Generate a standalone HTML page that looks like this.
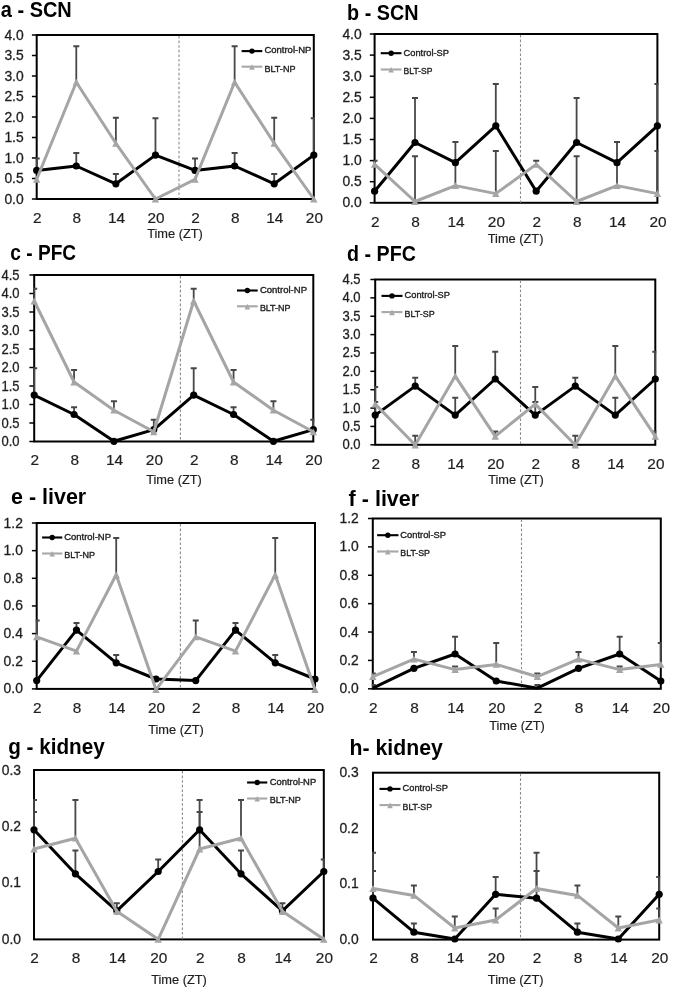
<!DOCTYPE html>
<html><head><meta charset="utf-8"><title>Figure</title>
<style>
html,body{margin:0;padding:0;background:#fff;}
body{width:675px;height:991px;overflow:hidden;}
svg{display:block;font-family:"Liberation Sans", sans-serif;will-change:transform;filter:blur(0.4px);}
</style></head>
<body>
<svg width="675" height="991" viewBox="0 0 675 991">
<rect width="675" height="991" fill="#fff"/>
<g id="pa">
<text x="0.8" y="16.8" font-size="21.5" font-weight="bold" fill="#000" textLength="71" lengthAdjust="spacingAndGlyphs">a - SCN</text>
<text x="23.7" y="203.5" font-size="14.2" text-anchor="end" fill="#1f1f1f" stroke="#1f1f1f" stroke-width="0.3" textLength="19.3" lengthAdjust="spacingAndGlyphs">0.0</text>
<line x1="31.9" y1="199" x2="36.7" y2="199" stroke="#000" stroke-width="1.5"/>
<text x="23.7" y="183" font-size="14.2" text-anchor="end" fill="#1f1f1f" stroke="#1f1f1f" stroke-width="0.3" textLength="19.3" lengthAdjust="spacingAndGlyphs">0.5</text>
<line x1="31.9" y1="178.5" x2="36.7" y2="178.5" stroke="#000" stroke-width="1.5"/>
<text x="23.7" y="162.5" font-size="14.2" text-anchor="end" fill="#1f1f1f" stroke="#1f1f1f" stroke-width="0.3" textLength="19.3" lengthAdjust="spacingAndGlyphs">1.0</text>
<line x1="31.9" y1="158" x2="36.7" y2="158" stroke="#000" stroke-width="1.5"/>
<text x="23.7" y="142" font-size="14.2" text-anchor="end" fill="#1f1f1f" stroke="#1f1f1f" stroke-width="0.3" textLength="19.3" lengthAdjust="spacingAndGlyphs">1.5</text>
<line x1="31.9" y1="137.5" x2="36.7" y2="137.5" stroke="#000" stroke-width="1.5"/>
<text x="23.7" y="121.5" font-size="14.2" text-anchor="end" fill="#1f1f1f" stroke="#1f1f1f" stroke-width="0.3" textLength="19.3" lengthAdjust="spacingAndGlyphs">2.0</text>
<line x1="31.9" y1="117" x2="36.7" y2="117" stroke="#000" stroke-width="1.5"/>
<text x="23.7" y="101" font-size="14.2" text-anchor="end" fill="#1f1f1f" stroke="#1f1f1f" stroke-width="0.3" textLength="19.3" lengthAdjust="spacingAndGlyphs">2.5</text>
<line x1="31.9" y1="96.5" x2="36.7" y2="96.5" stroke="#000" stroke-width="1.5"/>
<text x="23.7" y="80.5" font-size="14.2" text-anchor="end" fill="#1f1f1f" stroke="#1f1f1f" stroke-width="0.3" textLength="19.3" lengthAdjust="spacingAndGlyphs">3.0</text>
<line x1="31.9" y1="76" x2="36.7" y2="76" stroke="#000" stroke-width="1.5"/>
<text x="23.7" y="60" font-size="14.2" text-anchor="end" fill="#1f1f1f" stroke="#1f1f1f" stroke-width="0.3" textLength="19.3" lengthAdjust="spacingAndGlyphs">3.5</text>
<line x1="31.9" y1="55.5" x2="36.7" y2="55.5" stroke="#000" stroke-width="1.5"/>
<text x="23.7" y="39.5" font-size="14.2" text-anchor="end" fill="#1f1f1f" stroke="#1f1f1f" stroke-width="0.3" textLength="19.3" lengthAdjust="spacingAndGlyphs">4.0</text>
<line x1="31.9" y1="35" x2="36.7" y2="35" stroke="#000" stroke-width="1.5"/>
<text x="37.3" y="223" font-size="15.4" text-anchor="middle" fill="#1f1f1f" stroke="#1f1f1f" stroke-width="0.2">2</text>
<text x="76.89" y="223" font-size="15.4" text-anchor="middle" fill="#1f1f1f" stroke="#1f1f1f" stroke-width="0.2">8</text>
<text x="116.47" y="223" font-size="15.4" text-anchor="middle" fill="#1f1f1f" stroke="#1f1f1f" stroke-width="0.2">14</text>
<text x="156.06" y="223" font-size="15.4" text-anchor="middle" fill="#1f1f1f" stroke="#1f1f1f" stroke-width="0.2">20</text>
<text x="195.64" y="223" font-size="15.4" text-anchor="middle" fill="#1f1f1f" stroke="#1f1f1f" stroke-width="0.2">2</text>
<text x="235.23" y="223" font-size="15.4" text-anchor="middle" fill="#1f1f1f" stroke="#1f1f1f" stroke-width="0.2">8</text>
<text x="274.81" y="223" font-size="15.4" text-anchor="middle" fill="#1f1f1f" stroke="#1f1f1f" stroke-width="0.2">14</text>
<text x="314.4" y="223" font-size="15.4" text-anchor="middle" fill="#1f1f1f" stroke="#1f1f1f" stroke-width="0.2">20</text>
<text x="175" y="237.8" font-size="12.8" text-anchor="middle" fill="#1f1f1f" stroke="#1f1f1f" stroke-width="0.2">Time (ZT)</text>
<rect x="36.7" y="35" width="277.1" height="164" fill="none" stroke="#000" stroke-width="2"/>
<line x1="179" y1="36" x2="179" y2="199" stroke="#8a8a8a" stroke-width="1.1" stroke-dasharray="2.6 2"/>
<line x1="241.6" y1="51.1" x2="262.3" y2="51.1" stroke="#000" stroke-width="2.1"/>
<circle cx="251.95" cy="51.1" r="2.7" fill="#000"/>
<line x1="241.6" y1="66.7" x2="262.3" y2="66.7" stroke="#a8a8a8" stroke-width="2.1"/>
<path d="M251.95 64.2L254.75 69.8L249.15 69.8Z" fill="#a8a8a8"/>
<text x="264.4" y="53.1" font-size="9.1" fill="#222" stroke="#222" stroke-width="0.35" textLength="47" lengthAdjust="spacingAndGlyphs">Control-NP</text>
<text x="264.4" y="71.6" font-size="9.1" fill="#222" stroke="#222" stroke-width="0.35" textLength="31.1" lengthAdjust="spacingAndGlyphs">BLT-NP</text>
<clipPath id="clipa"><rect x="35.7" y="34" width="279.1" height="166"/></clipPath>
<g clip-path="url(#clipa)">
<line x1="36.7" y1="170.4" x2="36.7" y2="158.4" stroke="#474747" stroke-width="1.8"/>
<line x1="33.7" y1="158.4" x2="39.7" y2="158.4" stroke="#474747" stroke-width="2"/>
<line x1="76.29" y1="166" x2="76.29" y2="152.9" stroke="#474747" stroke-width="1.8"/>
<line x1="73.29" y1="152.9" x2="79.29" y2="152.9" stroke="#474747" stroke-width="2"/>
<line x1="76.29" y1="82.2" x2="76.29" y2="46.2" stroke="#474747" stroke-width="1.8"/>
<line x1="73.29" y1="46.2" x2="79.29" y2="46.2" stroke="#474747" stroke-width="2"/>
<line x1="115.87" y1="183.8" x2="115.87" y2="174" stroke="#474747" stroke-width="1.8"/>
<line x1="112.87" y1="174" x2="118.87" y2="174" stroke="#474747" stroke-width="2"/>
<line x1="115.87" y1="143.3" x2="115.87" y2="117.8" stroke="#474747" stroke-width="1.8"/>
<line x1="112.87" y1="117.8" x2="118.87" y2="117.8" stroke="#474747" stroke-width="2"/>
<line x1="155.46" y1="155.1" x2="155.46" y2="118.2" stroke="#474747" stroke-width="1.8"/>
<line x1="152.46" y1="118.2" x2="158.46" y2="118.2" stroke="#474747" stroke-width="2"/>
<line x1="195.04" y1="170.4" x2="195.04" y2="158.4" stroke="#474747" stroke-width="1.8"/>
<line x1="192.04" y1="158.4" x2="198.04" y2="158.4" stroke="#474747" stroke-width="2"/>
<line x1="234.63" y1="166" x2="234.63" y2="152.9" stroke="#474747" stroke-width="1.8"/>
<line x1="231.63" y1="152.9" x2="237.63" y2="152.9" stroke="#474747" stroke-width="2"/>
<line x1="234.63" y1="82.2" x2="234.63" y2="46.2" stroke="#474747" stroke-width="1.8"/>
<line x1="231.63" y1="46.2" x2="237.63" y2="46.2" stroke="#474747" stroke-width="2"/>
<line x1="274.21" y1="183.8" x2="274.21" y2="174" stroke="#474747" stroke-width="1.8"/>
<line x1="271.21" y1="174" x2="277.21" y2="174" stroke="#474747" stroke-width="2"/>
<line x1="274.21" y1="143.3" x2="274.21" y2="117.8" stroke="#474747" stroke-width="1.8"/>
<line x1="271.21" y1="117.8" x2="277.21" y2="117.8" stroke="#474747" stroke-width="2"/>
<line x1="313.8" y1="155.1" x2="313.8" y2="118.2" stroke="#474747" stroke-width="1.8"/>
<line x1="310.8" y1="118.2" x2="316.8" y2="118.2" stroke="#474747" stroke-width="2"/>
</g>
<polyline points="36.7,170.4 76.29,166 115.87,183.8 155.46,155.1 195.04,170.4 234.63,166 274.21,183.8 313.8,155.1" fill="none" stroke="#000000" stroke-width="3" stroke-linejoin="round"/>
<circle cx="36.7" cy="170.4" r="3.6" fill="#000000"/>
<circle cx="76.29" cy="166" r="3.6" fill="#000000"/>
<circle cx="115.87" cy="183.8" r="3.6" fill="#000000"/>
<circle cx="155.46" cy="155.1" r="3.6" fill="#000000"/>
<circle cx="195.04" cy="170.4" r="3.6" fill="#000000"/>
<circle cx="234.63" cy="166" r="3.6" fill="#000000"/>
<circle cx="274.21" cy="183.8" r="3.6" fill="#000000"/>
<circle cx="313.8" cy="155.1" r="3.6" fill="#000000"/>
<polyline points="36.7,179.3 76.29,82.2 115.87,143.3 155.46,199 195.04,179.3 234.63,82.2 274.21,143.3 313.8,199" fill="none" stroke="#a5a5a5" stroke-width="3" stroke-linejoin="round"/>
<path d="M36.7 175.9L40.4 182.7L33 182.7Z" fill="#a5a5a5"/>
<path d="M76.29 78.8L79.99 85.6L72.59 85.6Z" fill="#a5a5a5"/>
<path d="M115.87 139.9L119.57 146.7L112.17 146.7Z" fill="#a5a5a5"/>
<path d="M155.46 195.6L159.16 202.4L151.76 202.4Z" fill="#a5a5a5"/>
<path d="M195.04 175.9L198.74 182.7L191.34 182.7Z" fill="#a5a5a5"/>
<path d="M234.63 78.8L238.33 85.6L230.93 85.6Z" fill="#a5a5a5"/>
<path d="M274.21 139.9L277.91 146.7L270.51 146.7Z" fill="#a5a5a5"/>
<path d="M313.8 195.6L317.5 202.4L310.1 202.4Z" fill="#a5a5a5"/>
</g>
<g id="pb">
<text x="347.1" y="19.6" font-size="21.5" font-weight="bold" fill="#000" textLength="71.4" lengthAdjust="spacingAndGlyphs">b - SCN</text>
<text x="361.7" y="207.3" font-size="14.2" text-anchor="end" fill="#1f1f1f" stroke="#1f1f1f" stroke-width="0.3" textLength="19.3" lengthAdjust="spacingAndGlyphs">0.0</text>
<line x1="369.8" y1="202.8" x2="374.6" y2="202.8" stroke="#000" stroke-width="1.5"/>
<text x="361.7" y="186.2" font-size="14.2" text-anchor="end" fill="#1f1f1f" stroke="#1f1f1f" stroke-width="0.3" textLength="19.3" lengthAdjust="spacingAndGlyphs">0.5</text>
<line x1="369.8" y1="181.7" x2="374.6" y2="181.7" stroke="#000" stroke-width="1.5"/>
<text x="361.7" y="165.1" font-size="14.2" text-anchor="end" fill="#1f1f1f" stroke="#1f1f1f" stroke-width="0.3" textLength="19.3" lengthAdjust="spacingAndGlyphs">1.0</text>
<line x1="369.8" y1="160.6" x2="374.6" y2="160.6" stroke="#000" stroke-width="1.5"/>
<text x="361.7" y="144" font-size="14.2" text-anchor="end" fill="#1f1f1f" stroke="#1f1f1f" stroke-width="0.3" textLength="19.3" lengthAdjust="spacingAndGlyphs">1.5</text>
<line x1="369.8" y1="139.5" x2="374.6" y2="139.5" stroke="#000" stroke-width="1.5"/>
<text x="361.7" y="122.9" font-size="14.2" text-anchor="end" fill="#1f1f1f" stroke="#1f1f1f" stroke-width="0.3" textLength="19.3" lengthAdjust="spacingAndGlyphs">2.0</text>
<line x1="369.8" y1="118.4" x2="374.6" y2="118.4" stroke="#000" stroke-width="1.5"/>
<text x="361.7" y="101.8" font-size="14.2" text-anchor="end" fill="#1f1f1f" stroke="#1f1f1f" stroke-width="0.3" textLength="19.3" lengthAdjust="spacingAndGlyphs">2.5</text>
<line x1="369.8" y1="97.3" x2="374.6" y2="97.3" stroke="#000" stroke-width="1.5"/>
<text x="361.7" y="80.7" font-size="14.2" text-anchor="end" fill="#1f1f1f" stroke="#1f1f1f" stroke-width="0.3" textLength="19.3" lengthAdjust="spacingAndGlyphs">3.0</text>
<line x1="369.8" y1="76.2" x2="374.6" y2="76.2" stroke="#000" stroke-width="1.5"/>
<text x="361.7" y="59.6" font-size="14.2" text-anchor="end" fill="#1f1f1f" stroke="#1f1f1f" stroke-width="0.3" textLength="19.3" lengthAdjust="spacingAndGlyphs">3.5</text>
<line x1="369.8" y1="55.1" x2="374.6" y2="55.1" stroke="#000" stroke-width="1.5"/>
<text x="361.7" y="38.5" font-size="14.2" text-anchor="end" fill="#1f1f1f" stroke="#1f1f1f" stroke-width="0.3" textLength="19.3" lengthAdjust="spacingAndGlyphs">4.0</text>
<line x1="369.8" y1="34" x2="374.6" y2="34" stroke="#000" stroke-width="1.5"/>
<text x="375.2" y="226.7" font-size="15.4" text-anchor="middle" fill="#1f1f1f" stroke="#1f1f1f" stroke-width="0.2">2</text>
<text x="415.6" y="226.7" font-size="15.4" text-anchor="middle" fill="#1f1f1f" stroke="#1f1f1f" stroke-width="0.2">8</text>
<text x="456" y="226.7" font-size="15.4" text-anchor="middle" fill="#1f1f1f" stroke="#1f1f1f" stroke-width="0.2">14</text>
<text x="496.4" y="226.7" font-size="15.4" text-anchor="middle" fill="#1f1f1f" stroke="#1f1f1f" stroke-width="0.2">20</text>
<text x="536.8" y="226.7" font-size="15.4" text-anchor="middle" fill="#1f1f1f" stroke="#1f1f1f" stroke-width="0.2">2</text>
<text x="577.2" y="226.7" font-size="15.4" text-anchor="middle" fill="#1f1f1f" stroke="#1f1f1f" stroke-width="0.2">8</text>
<text x="617.6" y="226.7" font-size="15.4" text-anchor="middle" fill="#1f1f1f" stroke="#1f1f1f" stroke-width="0.2">14</text>
<text x="658" y="226.7" font-size="15.4" text-anchor="middle" fill="#1f1f1f" stroke="#1f1f1f" stroke-width="0.2">20</text>
<text x="515.6" y="242.5" font-size="12.8" text-anchor="middle" fill="#1f1f1f" stroke="#1f1f1f" stroke-width="0.2">Time (ZT)</text>
<rect x="374.6" y="34" width="282.8" height="168.8" fill="none" stroke="#000" stroke-width="2"/>
<line x1="520.5" y1="35" x2="520.5" y2="202.8" stroke="#8a8a8a" stroke-width="1.1" stroke-dasharray="2.6 2"/>
<line x1="380.7" y1="53.2" x2="401.5" y2="53.2" stroke="#000" stroke-width="2.1"/>
<circle cx="391.1" cy="53.2" r="2.7" fill="#000"/>
<line x1="380.7" y1="69.5" x2="401.5" y2="69.5" stroke="#a8a8a8" stroke-width="2.1"/>
<path d="M391.1 67L393.9 72.6L388.3 72.6Z" fill="#a8a8a8"/>
<text x="403.6" y="55.5" font-size="9.1" fill="#222" stroke="#222" stroke-width="0.35" textLength="45.4" lengthAdjust="spacingAndGlyphs">Control-SP</text>
<text x="403.6" y="73.9" font-size="9.1" fill="#222" stroke="#222" stroke-width="0.35" textLength="28.8" lengthAdjust="spacingAndGlyphs">BLT-SP</text>
<clipPath id="clipb"><rect x="373.6" y="33" width="284.8" height="170.8"/></clipPath>
<g clip-path="url(#clipb)">
<line x1="374.6" y1="164.4" x2="374.6" y2="160.7" stroke="#474747" stroke-width="1.8"/>
<line x1="371.6" y1="160.7" x2="377.6" y2="160.7" stroke="#474747" stroke-width="2"/>
<line x1="415" y1="142.5" x2="415" y2="98" stroke="#474747" stroke-width="1.8"/>
<line x1="412" y1="98" x2="418" y2="98" stroke="#474747" stroke-width="2"/>
<line x1="415" y1="201.5" x2="415" y2="156.2" stroke="#474747" stroke-width="1.8"/>
<line x1="412" y1="156.2" x2="418" y2="156.2" stroke="#474747" stroke-width="2"/>
<line x1="455.4" y1="162.7" x2="455.4" y2="142" stroke="#474747" stroke-width="1.8"/>
<line x1="452.4" y1="142" x2="458.4" y2="142" stroke="#474747" stroke-width="2"/>
<line x1="455.4" y1="185.6" x2="455.4" y2="162.7" stroke="#474747" stroke-width="1.8"/>
<line x1="495.8" y1="125.8" x2="495.8" y2="84" stroke="#474747" stroke-width="1.8"/>
<line x1="492.8" y1="84" x2="498.8" y2="84" stroke="#474747" stroke-width="2"/>
<line x1="495.8" y1="193.6" x2="495.8" y2="151" stroke="#474747" stroke-width="1.8"/>
<line x1="492.8" y1="151" x2="498.8" y2="151" stroke="#474747" stroke-width="2"/>
<line x1="536.2" y1="164.4" x2="536.2" y2="160.7" stroke="#474747" stroke-width="1.8"/>
<line x1="533.2" y1="160.7" x2="539.2" y2="160.7" stroke="#474747" stroke-width="2"/>
<line x1="576.6" y1="142.5" x2="576.6" y2="98" stroke="#474747" stroke-width="1.8"/>
<line x1="573.6" y1="98" x2="579.6" y2="98" stroke="#474747" stroke-width="2"/>
<line x1="576.6" y1="201.5" x2="576.6" y2="156.2" stroke="#474747" stroke-width="1.8"/>
<line x1="573.6" y1="156.2" x2="579.6" y2="156.2" stroke="#474747" stroke-width="2"/>
<line x1="617" y1="162.7" x2="617" y2="142" stroke="#474747" stroke-width="1.8"/>
<line x1="614" y1="142" x2="620" y2="142" stroke="#474747" stroke-width="2"/>
<line x1="617" y1="185.6" x2="617" y2="162.7" stroke="#474747" stroke-width="1.8"/>
<line x1="657.4" y1="125.8" x2="657.4" y2="84" stroke="#474747" stroke-width="1.8"/>
<line x1="654.4" y1="84" x2="660.4" y2="84" stroke="#474747" stroke-width="2"/>
<line x1="657.4" y1="193.6" x2="657.4" y2="151" stroke="#474747" stroke-width="1.8"/>
<line x1="654.4" y1="151" x2="660.4" y2="151" stroke="#474747" stroke-width="2"/>
</g>
<polyline points="374.6,191.2 415,142.5 455.4,162.7 495.8,125.8 536.2,191.2 576.6,142.5 617,162.7 657.4,125.8" fill="none" stroke="#000000" stroke-width="3" stroke-linejoin="round"/>
<circle cx="374.6" cy="191.2" r="3.6" fill="#000000"/>
<circle cx="415" cy="142.5" r="3.6" fill="#000000"/>
<circle cx="455.4" cy="162.7" r="3.6" fill="#000000"/>
<circle cx="495.8" cy="125.8" r="3.6" fill="#000000"/>
<circle cx="536.2" cy="191.2" r="3.6" fill="#000000"/>
<circle cx="576.6" cy="142.5" r="3.6" fill="#000000"/>
<circle cx="617" cy="162.7" r="3.6" fill="#000000"/>
<circle cx="657.4" cy="125.8" r="3.6" fill="#000000"/>
<polyline points="374.6,164.4 415,201.5 455.4,185.6 495.8,193.6 536.2,164.4 576.6,201.5 617,185.6 657.4,193.6" fill="none" stroke="#a5a5a5" stroke-width="3" stroke-linejoin="round"/>
<path d="M374.6 161L378.3 167.8L370.9 167.8Z" fill="#a5a5a5"/>
<path d="M415 198.1L418.7 204.9L411.3 204.9Z" fill="#a5a5a5"/>
<path d="M455.4 182.2L459.1 189L451.7 189Z" fill="#a5a5a5"/>
<path d="M495.8 190.2L499.5 197L492.1 197Z" fill="#a5a5a5"/>
<path d="M536.2 161L539.9 167.8L532.5 167.8Z" fill="#a5a5a5"/>
<path d="M576.6 198.1L580.3 204.9L572.9 204.9Z" fill="#a5a5a5"/>
<path d="M617 182.2L620.7 189L613.3 189Z" fill="#a5a5a5"/>
<path d="M657.4 190.2L661.1 197L653.7 197Z" fill="#a5a5a5"/>
</g>
<g id="pc">
<text x="10.3" y="259.9" font-size="21.5" font-weight="bold" fill="#000" textLength="65.8" lengthAdjust="spacingAndGlyphs">c - PFC</text>
<text x="19.5" y="446" font-size="14.2" text-anchor="end" fill="#1f1f1f" stroke="#1f1f1f" stroke-width="0.3" textLength="18.1" lengthAdjust="spacingAndGlyphs">0.0</text>
<line x1="29.4" y1="441.5" x2="34.2" y2="441.5" stroke="#000" stroke-width="1.5"/>
<text x="19.5" y="427.5" font-size="14.2" text-anchor="end" fill="#1f1f1f" stroke="#1f1f1f" stroke-width="0.3" textLength="18.1" lengthAdjust="spacingAndGlyphs">0.5</text>
<line x1="29.4" y1="423" x2="34.2" y2="423" stroke="#000" stroke-width="1.5"/>
<text x="19.5" y="409" font-size="14.2" text-anchor="end" fill="#1f1f1f" stroke="#1f1f1f" stroke-width="0.3" textLength="18.1" lengthAdjust="spacingAndGlyphs">1.0</text>
<line x1="29.4" y1="404.5" x2="34.2" y2="404.5" stroke="#000" stroke-width="1.5"/>
<text x="19.5" y="390.5" font-size="14.2" text-anchor="end" fill="#1f1f1f" stroke="#1f1f1f" stroke-width="0.3" textLength="18.1" lengthAdjust="spacingAndGlyphs">1.5</text>
<line x1="29.4" y1="386" x2="34.2" y2="386" stroke="#000" stroke-width="1.5"/>
<text x="19.5" y="372" font-size="14.2" text-anchor="end" fill="#1f1f1f" stroke="#1f1f1f" stroke-width="0.3" textLength="18.1" lengthAdjust="spacingAndGlyphs">2.0</text>
<line x1="29.4" y1="367.5" x2="34.2" y2="367.5" stroke="#000" stroke-width="1.5"/>
<text x="19.5" y="353.5" font-size="14.2" text-anchor="end" fill="#1f1f1f" stroke="#1f1f1f" stroke-width="0.3" textLength="18.1" lengthAdjust="spacingAndGlyphs">2.5</text>
<line x1="29.4" y1="349" x2="34.2" y2="349" stroke="#000" stroke-width="1.5"/>
<text x="19.5" y="335" font-size="14.2" text-anchor="end" fill="#1f1f1f" stroke="#1f1f1f" stroke-width="0.3" textLength="18.1" lengthAdjust="spacingAndGlyphs">3.0</text>
<line x1="29.4" y1="330.5" x2="34.2" y2="330.5" stroke="#000" stroke-width="1.5"/>
<text x="19.5" y="316.5" font-size="14.2" text-anchor="end" fill="#1f1f1f" stroke="#1f1f1f" stroke-width="0.3" textLength="18.1" lengthAdjust="spacingAndGlyphs">3.5</text>
<line x1="29.4" y1="312" x2="34.2" y2="312" stroke="#000" stroke-width="1.5"/>
<text x="19.5" y="298" font-size="14.2" text-anchor="end" fill="#1f1f1f" stroke="#1f1f1f" stroke-width="0.3" textLength="18.1" lengthAdjust="spacingAndGlyphs">4.0</text>
<line x1="29.4" y1="293.5" x2="34.2" y2="293.5" stroke="#000" stroke-width="1.5"/>
<text x="19.5" y="279.5" font-size="14.2" text-anchor="end" fill="#1f1f1f" stroke="#1f1f1f" stroke-width="0.3" textLength="18.1" lengthAdjust="spacingAndGlyphs">4.5</text>
<line x1="29.4" y1="275" x2="34.2" y2="275" stroke="#000" stroke-width="1.5"/>
<text x="34.8" y="465" font-size="15.4" text-anchor="middle" fill="#1f1f1f" stroke="#1f1f1f" stroke-width="0.2">2</text>
<text x="74.67" y="465" font-size="15.4" text-anchor="middle" fill="#1f1f1f" stroke="#1f1f1f" stroke-width="0.2">8</text>
<text x="114.54" y="465" font-size="15.4" text-anchor="middle" fill="#1f1f1f" stroke="#1f1f1f" stroke-width="0.2">14</text>
<text x="154.41" y="465" font-size="15.4" text-anchor="middle" fill="#1f1f1f" stroke="#1f1f1f" stroke-width="0.2">20</text>
<text x="194.29" y="465" font-size="15.4" text-anchor="middle" fill="#1f1f1f" stroke="#1f1f1f" stroke-width="0.2">2</text>
<text x="234.16" y="465" font-size="15.4" text-anchor="middle" fill="#1f1f1f" stroke="#1f1f1f" stroke-width="0.2">8</text>
<text x="274.03" y="465" font-size="15.4" text-anchor="middle" fill="#1f1f1f" stroke="#1f1f1f" stroke-width="0.2">14</text>
<text x="313.9" y="465" font-size="15.4" text-anchor="middle" fill="#1f1f1f" stroke="#1f1f1f" stroke-width="0.2">20</text>
<text x="174" y="484.3" font-size="12.8" text-anchor="middle" fill="#1f1f1f" stroke="#1f1f1f" stroke-width="0.2">Time (ZT)</text>
<rect x="34.2" y="275" width="279.1" height="166.5" fill="none" stroke="#000" stroke-width="2"/>
<line x1="180.4" y1="276" x2="180.4" y2="441.5" stroke="#8a8a8a" stroke-width="1.1" stroke-dasharray="2.6 2"/>
<line x1="237" y1="290.5" x2="257.7" y2="290.5" stroke="#000" stroke-width="2.1"/>
<circle cx="247.35" cy="290.5" r="2.7" fill="#000"/>
<line x1="237" y1="306.3" x2="257.7" y2="306.3" stroke="#a8a8a8" stroke-width="2.1"/>
<path d="M247.35 303.8L250.15 309.4L244.55 309.4Z" fill="#a8a8a8"/>
<text x="259.9" y="292.9" font-size="9.1" fill="#222" stroke="#222" stroke-width="0.35" textLength="47.1" lengthAdjust="spacingAndGlyphs">Control-NP</text>
<text x="259.9" y="311" font-size="9.1" fill="#222" stroke="#222" stroke-width="0.35" textLength="30.5" lengthAdjust="spacingAndGlyphs">BLT-NP</text>
<clipPath id="clipc"><rect x="33.2" y="274" width="281.1" height="168.5"/></clipPath>
<g clip-path="url(#clipc)">
<line x1="34.2" y1="395.1" x2="34.2" y2="368.2" stroke="#474747" stroke-width="1.8"/>
<line x1="31.2" y1="368.2" x2="37.2" y2="368.2" stroke="#474747" stroke-width="2"/>
<line x1="34.2" y1="301" x2="34.2" y2="288.7" stroke="#474747" stroke-width="1.8"/>
<line x1="31.2" y1="288.7" x2="37.2" y2="288.7" stroke="#474747" stroke-width="2"/>
<line x1="74.07" y1="414.5" x2="74.07" y2="407.2" stroke="#474747" stroke-width="1.8"/>
<line x1="71.07" y1="407.2" x2="77.07" y2="407.2" stroke="#474747" stroke-width="2"/>
<line x1="74.07" y1="382" x2="74.07" y2="370" stroke="#474747" stroke-width="1.8"/>
<line x1="71.07" y1="370" x2="77.07" y2="370" stroke="#474747" stroke-width="2"/>
<line x1="113.94" y1="410.2" x2="113.94" y2="401.3" stroke="#474747" stroke-width="1.8"/>
<line x1="110.94" y1="401.3" x2="116.94" y2="401.3" stroke="#474747" stroke-width="2"/>
<line x1="153.81" y1="431.8" x2="153.81" y2="419.7" stroke="#474747" stroke-width="1.8"/>
<line x1="150.81" y1="419.7" x2="156.81" y2="419.7" stroke="#474747" stroke-width="2"/>
<line x1="193.69" y1="395.1" x2="193.69" y2="368.2" stroke="#474747" stroke-width="1.8"/>
<line x1="190.69" y1="368.2" x2="196.69" y2="368.2" stroke="#474747" stroke-width="2"/>
<line x1="193.69" y1="301" x2="193.69" y2="288.7" stroke="#474747" stroke-width="1.8"/>
<line x1="190.69" y1="288.7" x2="196.69" y2="288.7" stroke="#474747" stroke-width="2"/>
<line x1="233.56" y1="414.5" x2="233.56" y2="407.2" stroke="#474747" stroke-width="1.8"/>
<line x1="230.56" y1="407.2" x2="236.56" y2="407.2" stroke="#474747" stroke-width="2"/>
<line x1="233.56" y1="382" x2="233.56" y2="370" stroke="#474747" stroke-width="1.8"/>
<line x1="230.56" y1="370" x2="236.56" y2="370" stroke="#474747" stroke-width="2"/>
<line x1="273.43" y1="410.2" x2="273.43" y2="401.3" stroke="#474747" stroke-width="1.8"/>
<line x1="270.43" y1="401.3" x2="276.43" y2="401.3" stroke="#474747" stroke-width="2"/>
<line x1="313.3" y1="431.8" x2="313.3" y2="419.7" stroke="#474747" stroke-width="1.8"/>
<line x1="310.3" y1="419.7" x2="316.3" y2="419.7" stroke="#474747" stroke-width="2"/>
</g>
<polyline points="34.2,395.1 74.07,414.5 113.94,441.3 153.81,429.6 193.69,395.1 233.56,414.5 273.43,441.3 313.3,429.6" fill="none" stroke="#000000" stroke-width="3" stroke-linejoin="round"/>
<circle cx="34.2" cy="395.1" r="3.6" fill="#000000"/>
<circle cx="74.07" cy="414.5" r="3.6" fill="#000000"/>
<circle cx="113.94" cy="441.3" r="3.6" fill="#000000"/>
<circle cx="153.81" cy="429.6" r="3.6" fill="#000000"/>
<circle cx="193.69" cy="395.1" r="3.6" fill="#000000"/>
<circle cx="233.56" cy="414.5" r="3.6" fill="#000000"/>
<circle cx="273.43" cy="441.3" r="3.6" fill="#000000"/>
<circle cx="313.3" cy="429.6" r="3.6" fill="#000000"/>
<polyline points="34.2,301 74.07,382 113.94,410.2 153.81,431.8 193.69,301 233.56,382 273.43,410.2 313.3,431.8" fill="none" stroke="#a5a5a5" stroke-width="3" stroke-linejoin="round"/>
<path d="M34.2 297.6L37.9 304.4L30.5 304.4Z" fill="#a5a5a5"/>
<path d="M74.07 378.6L77.77 385.4L70.37 385.4Z" fill="#a5a5a5"/>
<path d="M113.94 406.8L117.64 413.6L110.24 413.6Z" fill="#a5a5a5"/>
<path d="M153.81 428.4L157.51 435.2L150.11 435.2Z" fill="#a5a5a5"/>
<path d="M193.69 297.6L197.39 304.4L189.99 304.4Z" fill="#a5a5a5"/>
<path d="M233.56 378.6L237.26 385.4L229.86 385.4Z" fill="#a5a5a5"/>
<path d="M273.43 406.8L277.13 413.6L269.73 413.6Z" fill="#a5a5a5"/>
<path d="M313.3 428.4L317 435.2L309.6 435.2Z" fill="#a5a5a5"/>
</g>
<g id="pd">
<text x="347.1" y="260.8" font-size="21.5" font-weight="bold" fill="#000" textLength="68.8" lengthAdjust="spacingAndGlyphs">d - PFC</text>
<text x="360.6" y="449.3" font-size="14.2" text-anchor="end" fill="#1f1f1f" stroke="#1f1f1f" stroke-width="0.3" textLength="18.1" lengthAdjust="spacingAndGlyphs">0.0</text>
<line x1="370.4" y1="444.8" x2="375.2" y2="444.8" stroke="#000" stroke-width="1.5"/>
<text x="360.6" y="430.93" font-size="14.2" text-anchor="end" fill="#1f1f1f" stroke="#1f1f1f" stroke-width="0.3" textLength="18.1" lengthAdjust="spacingAndGlyphs">0.5</text>
<line x1="370.4" y1="426.43" x2="375.2" y2="426.43" stroke="#000" stroke-width="1.5"/>
<text x="360.6" y="412.57" font-size="14.2" text-anchor="end" fill="#1f1f1f" stroke="#1f1f1f" stroke-width="0.3" textLength="18.1" lengthAdjust="spacingAndGlyphs">1.0</text>
<line x1="370.4" y1="408.07" x2="375.2" y2="408.07" stroke="#000" stroke-width="1.5"/>
<text x="360.6" y="394.2" font-size="14.2" text-anchor="end" fill="#1f1f1f" stroke="#1f1f1f" stroke-width="0.3" textLength="18.1" lengthAdjust="spacingAndGlyphs">1.5</text>
<line x1="370.4" y1="389.7" x2="375.2" y2="389.7" stroke="#000" stroke-width="1.5"/>
<text x="360.6" y="375.83" font-size="14.2" text-anchor="end" fill="#1f1f1f" stroke="#1f1f1f" stroke-width="0.3" textLength="18.1" lengthAdjust="spacingAndGlyphs">2.0</text>
<line x1="370.4" y1="371.33" x2="375.2" y2="371.33" stroke="#000" stroke-width="1.5"/>
<text x="360.6" y="357.47" font-size="14.2" text-anchor="end" fill="#1f1f1f" stroke="#1f1f1f" stroke-width="0.3" textLength="18.1" lengthAdjust="spacingAndGlyphs">2.5</text>
<line x1="370.4" y1="352.97" x2="375.2" y2="352.97" stroke="#000" stroke-width="1.5"/>
<text x="360.6" y="339.1" font-size="14.2" text-anchor="end" fill="#1f1f1f" stroke="#1f1f1f" stroke-width="0.3" textLength="18.1" lengthAdjust="spacingAndGlyphs">3.0</text>
<line x1="370.4" y1="334.6" x2="375.2" y2="334.6" stroke="#000" stroke-width="1.5"/>
<text x="360.6" y="320.73" font-size="14.2" text-anchor="end" fill="#1f1f1f" stroke="#1f1f1f" stroke-width="0.3" textLength="18.1" lengthAdjust="spacingAndGlyphs">3.5</text>
<line x1="370.4" y1="316.23" x2="375.2" y2="316.23" stroke="#000" stroke-width="1.5"/>
<text x="360.6" y="302.37" font-size="14.2" text-anchor="end" fill="#1f1f1f" stroke="#1f1f1f" stroke-width="0.3" textLength="18.1" lengthAdjust="spacingAndGlyphs">4.0</text>
<line x1="370.4" y1="297.87" x2="375.2" y2="297.87" stroke="#000" stroke-width="1.5"/>
<text x="360.6" y="284" font-size="14.2" text-anchor="end" fill="#1f1f1f" stroke="#1f1f1f" stroke-width="0.3" textLength="18.1" lengthAdjust="spacingAndGlyphs">4.5</text>
<line x1="370.4" y1="279.5" x2="375.2" y2="279.5" stroke="#000" stroke-width="1.5"/>
<text x="375.8" y="468.9" font-size="15.4" text-anchor="middle" fill="#1f1f1f" stroke="#1f1f1f" stroke-width="0.2">2</text>
<text x="415.81" y="468.9" font-size="15.4" text-anchor="middle" fill="#1f1f1f" stroke="#1f1f1f" stroke-width="0.2">8</text>
<text x="455.83" y="468.9" font-size="15.4" text-anchor="middle" fill="#1f1f1f" stroke="#1f1f1f" stroke-width="0.2">14</text>
<text x="495.84" y="468.9" font-size="15.4" text-anchor="middle" fill="#1f1f1f" stroke="#1f1f1f" stroke-width="0.2">20</text>
<text x="535.86" y="468.9" font-size="15.4" text-anchor="middle" fill="#1f1f1f" stroke="#1f1f1f" stroke-width="0.2">2</text>
<text x="575.87" y="468.9" font-size="15.4" text-anchor="middle" fill="#1f1f1f" stroke="#1f1f1f" stroke-width="0.2">8</text>
<text x="615.89" y="468.9" font-size="15.4" text-anchor="middle" fill="#1f1f1f" stroke="#1f1f1f" stroke-width="0.2">14</text>
<text x="655.9" y="468.9" font-size="15.4" text-anchor="middle" fill="#1f1f1f" stroke="#1f1f1f" stroke-width="0.2">20</text>
<text x="516" y="484.3" font-size="12.8" text-anchor="middle" fill="#1f1f1f" stroke="#1f1f1f" stroke-width="0.2">Time (ZT)</text>
<rect x="375.2" y="279.5" width="280.1" height="165.3" fill="none" stroke="#000" stroke-width="2"/>
<line x1="520.5" y1="280.5" x2="520.5" y2="444.8" stroke="#8a8a8a" stroke-width="1.1" stroke-dasharray="2.6 2"/>
<line x1="381.5" y1="295.9" x2="402.5" y2="295.9" stroke="#000" stroke-width="2.1"/>
<circle cx="392" cy="295.9" r="2.7" fill="#000"/>
<line x1="381.5" y1="312.1" x2="402.5" y2="312.1" stroke="#a8a8a8" stroke-width="2.1"/>
<path d="M392 309.6L394.8 315.2L389.2 315.2Z" fill="#a8a8a8"/>
<text x="404.6" y="298.3" font-size="9.1" fill="#222" stroke="#222" stroke-width="0.35" textLength="45.4" lengthAdjust="spacingAndGlyphs">Control-SP</text>
<text x="404.6" y="316.6" font-size="9.1" fill="#222" stroke="#222" stroke-width="0.35" textLength="30" lengthAdjust="spacingAndGlyphs">BLT-SP</text>
<clipPath id="clipd"><rect x="374.2" y="278.5" width="282.1" height="167.3"/></clipPath>
<g clip-path="url(#clipd)">
<line x1="375.2" y1="415.1" x2="375.2" y2="387" stroke="#474747" stroke-width="1.8"/>
<line x1="372.2" y1="387" x2="378.2" y2="387" stroke="#474747" stroke-width="2"/>
<line x1="375.2" y1="404.1" x2="375.2" y2="402" stroke="#474747" stroke-width="1.8"/>
<line x1="372.2" y1="402" x2="378.2" y2="402" stroke="#474747" stroke-width="2"/>
<line x1="415.21" y1="386.1" x2="415.21" y2="377.7" stroke="#474747" stroke-width="1.8"/>
<line x1="412.21" y1="377.7" x2="418.21" y2="377.7" stroke="#474747" stroke-width="2"/>
<line x1="415.21" y1="445" x2="415.21" y2="435.7" stroke="#474747" stroke-width="1.8"/>
<line x1="412.21" y1="435.7" x2="418.21" y2="435.7" stroke="#474747" stroke-width="2"/>
<line x1="455.23" y1="415.1" x2="455.23" y2="397.8" stroke="#474747" stroke-width="1.8"/>
<line x1="452.23" y1="397.8" x2="458.23" y2="397.8" stroke="#474747" stroke-width="2"/>
<line x1="455.23" y1="376.1" x2="455.23" y2="346" stroke="#474747" stroke-width="1.8"/>
<line x1="452.23" y1="346" x2="458.23" y2="346" stroke="#474747" stroke-width="2"/>
<line x1="495.24" y1="379" x2="495.24" y2="351.8" stroke="#474747" stroke-width="1.8"/>
<line x1="492.24" y1="351.8" x2="498.24" y2="351.8" stroke="#474747" stroke-width="2"/>
<line x1="495.24" y1="436.3" x2="495.24" y2="431.6" stroke="#474747" stroke-width="1.8"/>
<line x1="492.24" y1="431.6" x2="498.24" y2="431.6" stroke="#474747" stroke-width="2"/>
<line x1="535.26" y1="415.1" x2="535.26" y2="387" stroke="#474747" stroke-width="1.8"/>
<line x1="532.26" y1="387" x2="538.26" y2="387" stroke="#474747" stroke-width="2"/>
<line x1="535.26" y1="404.1" x2="535.26" y2="402" stroke="#474747" stroke-width="1.8"/>
<line x1="532.26" y1="402" x2="538.26" y2="402" stroke="#474747" stroke-width="2"/>
<line x1="575.27" y1="386.1" x2="575.27" y2="377.7" stroke="#474747" stroke-width="1.8"/>
<line x1="572.27" y1="377.7" x2="578.27" y2="377.7" stroke="#474747" stroke-width="2"/>
<line x1="575.27" y1="445" x2="575.27" y2="435.7" stroke="#474747" stroke-width="1.8"/>
<line x1="572.27" y1="435.7" x2="578.27" y2="435.7" stroke="#474747" stroke-width="2"/>
<line x1="615.29" y1="415.1" x2="615.29" y2="397.8" stroke="#474747" stroke-width="1.8"/>
<line x1="612.29" y1="397.8" x2="618.29" y2="397.8" stroke="#474747" stroke-width="2"/>
<line x1="615.29" y1="376.1" x2="615.29" y2="346" stroke="#474747" stroke-width="1.8"/>
<line x1="612.29" y1="346" x2="618.29" y2="346" stroke="#474747" stroke-width="2"/>
<line x1="655.3" y1="379" x2="655.3" y2="351.8" stroke="#474747" stroke-width="1.8"/>
<line x1="652.3" y1="351.8" x2="658.3" y2="351.8" stroke="#474747" stroke-width="2"/>
<line x1="655.3" y1="436.3" x2="655.3" y2="431.6" stroke="#474747" stroke-width="1.8"/>
<line x1="652.3" y1="431.6" x2="658.3" y2="431.6" stroke="#474747" stroke-width="2"/>
</g>
<polyline points="375.2,415.1 415.21,386.1 455.23,415.1 495.24,379 535.26,415.1 575.27,386.1 615.29,415.1 655.3,379" fill="none" stroke="#000000" stroke-width="3" stroke-linejoin="round"/>
<circle cx="375.2" cy="415.1" r="3.6" fill="#000000"/>
<circle cx="415.21" cy="386.1" r="3.6" fill="#000000"/>
<circle cx="455.23" cy="415.1" r="3.6" fill="#000000"/>
<circle cx="495.24" cy="379" r="3.6" fill="#000000"/>
<circle cx="535.26" cy="415.1" r="3.6" fill="#000000"/>
<circle cx="575.27" cy="386.1" r="3.6" fill="#000000"/>
<circle cx="615.29" cy="415.1" r="3.6" fill="#000000"/>
<circle cx="655.3" cy="379" r="3.6" fill="#000000"/>
<polyline points="375.2,404.1 415.21,445 455.23,376.1 495.24,436.3 535.26,404.1 575.27,445 615.29,376.1 655.3,436.3" fill="none" stroke="#a5a5a5" stroke-width="3" stroke-linejoin="round"/>
<path d="M375.2 400.7L378.9 407.5L371.5 407.5Z" fill="#a5a5a5"/>
<path d="M415.21 441.6L418.91 448.4L411.51 448.4Z" fill="#a5a5a5"/>
<path d="M455.23 372.7L458.93 379.5L451.53 379.5Z" fill="#a5a5a5"/>
<path d="M495.24 432.9L498.94 439.7L491.54 439.7Z" fill="#a5a5a5"/>
<path d="M535.26 400.7L538.96 407.5L531.56 407.5Z" fill="#a5a5a5"/>
<path d="M575.27 441.6L578.97 448.4L571.57 448.4Z" fill="#a5a5a5"/>
<path d="M615.29 372.7L618.99 379.5L611.59 379.5Z" fill="#a5a5a5"/>
<path d="M655.3 432.9L659 439.7L651.6 439.7Z" fill="#a5a5a5"/>
</g>
<g id="pe">
<text x="11" y="504.2" font-size="21.5" font-weight="bold" fill="#000" textLength="75.2" lengthAdjust="spacingAndGlyphs">e - liver</text>
<text x="22.9" y="693.4" font-size="14.2" text-anchor="end" fill="#1f1f1f" stroke="#1f1f1f" stroke-width="0.3" textLength="19.3" lengthAdjust="spacingAndGlyphs">0.0</text>
<line x1="31.9" y1="688.9" x2="36.7" y2="688.9" stroke="#000" stroke-width="1.5"/>
<text x="22.9" y="665.75" font-size="14.2" text-anchor="end" fill="#1f1f1f" stroke="#1f1f1f" stroke-width="0.3" textLength="19.3" lengthAdjust="spacingAndGlyphs">0.2</text>
<line x1="31.9" y1="661.25" x2="36.7" y2="661.25" stroke="#000" stroke-width="1.5"/>
<text x="22.9" y="638.1" font-size="14.2" text-anchor="end" fill="#1f1f1f" stroke="#1f1f1f" stroke-width="0.3" textLength="19.3" lengthAdjust="spacingAndGlyphs">0.4</text>
<line x1="31.9" y1="633.6" x2="36.7" y2="633.6" stroke="#000" stroke-width="1.5"/>
<text x="22.9" y="610.45" font-size="14.2" text-anchor="end" fill="#1f1f1f" stroke="#1f1f1f" stroke-width="0.3" textLength="19.3" lengthAdjust="spacingAndGlyphs">0.6</text>
<line x1="31.9" y1="605.95" x2="36.7" y2="605.95" stroke="#000" stroke-width="1.5"/>
<text x="22.9" y="582.8" font-size="14.2" text-anchor="end" fill="#1f1f1f" stroke="#1f1f1f" stroke-width="0.3" textLength="19.3" lengthAdjust="spacingAndGlyphs">0.8</text>
<line x1="31.9" y1="578.3" x2="36.7" y2="578.3" stroke="#000" stroke-width="1.5"/>
<text x="22.9" y="555.15" font-size="14.2" text-anchor="end" fill="#1f1f1f" stroke="#1f1f1f" stroke-width="0.3" textLength="19.3" lengthAdjust="spacingAndGlyphs">1.0</text>
<line x1="31.9" y1="550.65" x2="36.7" y2="550.65" stroke="#000" stroke-width="1.5"/>
<text x="22.9" y="527.5" font-size="14.2" text-anchor="end" fill="#1f1f1f" stroke="#1f1f1f" stroke-width="0.3" textLength="19.3" lengthAdjust="spacingAndGlyphs">1.2</text>
<line x1="31.9" y1="523" x2="36.7" y2="523" stroke="#000" stroke-width="1.5"/>
<text x="37.3" y="713" font-size="15.4" text-anchor="middle" fill="#1f1f1f" stroke="#1f1f1f" stroke-width="0.2">2</text>
<text x="77.06" y="713" font-size="15.4" text-anchor="middle" fill="#1f1f1f" stroke="#1f1f1f" stroke-width="0.2">8</text>
<text x="116.81" y="713" font-size="15.4" text-anchor="middle" fill="#1f1f1f" stroke="#1f1f1f" stroke-width="0.2">14</text>
<text x="156.57" y="713" font-size="15.4" text-anchor="middle" fill="#1f1f1f" stroke="#1f1f1f" stroke-width="0.2">20</text>
<text x="196.33" y="713" font-size="15.4" text-anchor="middle" fill="#1f1f1f" stroke="#1f1f1f" stroke-width="0.2">2</text>
<text x="236.09" y="713" font-size="15.4" text-anchor="middle" fill="#1f1f1f" stroke="#1f1f1f" stroke-width="0.2">8</text>
<text x="275.84" y="713" font-size="15.4" text-anchor="middle" fill="#1f1f1f" stroke="#1f1f1f" stroke-width="0.2">14</text>
<text x="315.6" y="713" font-size="15.4" text-anchor="middle" fill="#1f1f1f" stroke="#1f1f1f" stroke-width="0.2">20</text>
<text x="176" y="733.9" font-size="12.8" text-anchor="middle" fill="#1f1f1f" stroke="#1f1f1f" stroke-width="0.2">Time (ZT)</text>
<rect x="36.7" y="523" width="278.3" height="165.9" fill="none" stroke="#000" stroke-width="2"/>
<line x1="180.4" y1="524" x2="180.4" y2="688.9" stroke="#8a8a8a" stroke-width="1.1" stroke-dasharray="2.6 2"/>
<line x1="42.1" y1="537.5" x2="62.3" y2="537.5" stroke="#000" stroke-width="2.1"/>
<circle cx="52.2" cy="537.5" r="2.7" fill="#000"/>
<line x1="42.1" y1="553.5" x2="62.3" y2="553.5" stroke="#a8a8a8" stroke-width="2.1"/>
<path d="M52.2 551L55 556.6L49.4 556.6Z" fill="#a8a8a8"/>
<text x="64.2" y="539.9" font-size="9.1" fill="#222" stroke="#222" stroke-width="0.35" textLength="46.8" lengthAdjust="spacingAndGlyphs">Control-NP</text>
<text x="64.2" y="558" font-size="9.1" fill="#222" stroke="#222" stroke-width="0.35" textLength="30.8" lengthAdjust="spacingAndGlyphs">BLT-NP</text>
<clipPath id="clipe"><rect x="35.7" y="522" width="280.3" height="167.9"/></clipPath>
<g clip-path="url(#clipe)">
<line x1="36.7" y1="636.8" x2="36.7" y2="620.6" stroke="#474747" stroke-width="1.8"/>
<line x1="33.7" y1="620.6" x2="39.7" y2="620.6" stroke="#474747" stroke-width="2"/>
<line x1="76.46" y1="630.1" x2="76.46" y2="623" stroke="#474747" stroke-width="1.8"/>
<line x1="73.46" y1="623" x2="79.46" y2="623" stroke="#474747" stroke-width="2"/>
<line x1="116.21" y1="662.8" x2="116.21" y2="655" stroke="#474747" stroke-width="1.8"/>
<line x1="113.21" y1="655" x2="119.21" y2="655" stroke="#474747" stroke-width="2"/>
<line x1="116.21" y1="574.8" x2="116.21" y2="537.9" stroke="#474747" stroke-width="1.8"/>
<line x1="113.21" y1="537.9" x2="119.21" y2="537.9" stroke="#474747" stroke-width="2"/>
<line x1="195.73" y1="636.8" x2="195.73" y2="620.6" stroke="#474747" stroke-width="1.8"/>
<line x1="192.73" y1="620.6" x2="198.73" y2="620.6" stroke="#474747" stroke-width="2"/>
<line x1="235.49" y1="630.1" x2="235.49" y2="623" stroke="#474747" stroke-width="1.8"/>
<line x1="232.49" y1="623" x2="238.49" y2="623" stroke="#474747" stroke-width="2"/>
<line x1="275.24" y1="662.8" x2="275.24" y2="655" stroke="#474747" stroke-width="1.8"/>
<line x1="272.24" y1="655" x2="278.24" y2="655" stroke="#474747" stroke-width="2"/>
<line x1="275.24" y1="574.8" x2="275.24" y2="537.9" stroke="#474747" stroke-width="1.8"/>
<line x1="272.24" y1="537.9" x2="278.24" y2="537.9" stroke="#474747" stroke-width="2"/>
</g>
<polyline points="36.7,680.6 76.46,630.1 116.21,662.8 155.97,679 195.73,680.6 235.49,630.1 275.24,662.8 315,679" fill="none" stroke="#000000" stroke-width="3" stroke-linejoin="round"/>
<circle cx="36.7" cy="680.6" r="3.6" fill="#000000"/>
<circle cx="76.46" cy="630.1" r="3.6" fill="#000000"/>
<circle cx="116.21" cy="662.8" r="3.6" fill="#000000"/>
<circle cx="155.97" cy="679" r="3.6" fill="#000000"/>
<circle cx="195.73" cy="680.6" r="3.6" fill="#000000"/>
<circle cx="235.49" cy="630.1" r="3.6" fill="#000000"/>
<circle cx="275.24" cy="662.8" r="3.6" fill="#000000"/>
<circle cx="315" cy="679" r="3.6" fill="#000000"/>
<polyline points="36.7,636.8 76.46,651.1 116.21,574.8 155.97,689.6 195.73,636.8 235.49,651.1 275.24,574.8 315,689.6" fill="none" stroke="#a5a5a5" stroke-width="3" stroke-linejoin="round"/>
<path d="M36.7 633.4L40.4 640.2L33 640.2Z" fill="#a5a5a5"/>
<path d="M76.46 647.7L80.16 654.5L72.76 654.5Z" fill="#a5a5a5"/>
<path d="M116.21 571.4L119.91 578.2L112.51 578.2Z" fill="#a5a5a5"/>
<path d="M155.97 686.2L159.67 693L152.27 693Z" fill="#a5a5a5"/>
<path d="M195.73 633.4L199.43 640.2L192.03 640.2Z" fill="#a5a5a5"/>
<path d="M235.49 647.7L239.19 654.5L231.79 654.5Z" fill="#a5a5a5"/>
<path d="M275.24 571.4L278.94 578.2L271.54 578.2Z" fill="#a5a5a5"/>
<path d="M315 686.2L318.7 693L311.3 693Z" fill="#a5a5a5"/>
</g>
<g id="pf">
<text x="348.6" y="505.6" font-size="21.5" font-weight="bold" fill="#000" textLength="70.6" lengthAdjust="spacingAndGlyphs">f - liver</text>
<text x="358.8" y="693.3" font-size="14.2" text-anchor="end" fill="#1f1f1f" stroke="#1f1f1f" stroke-width="0.3" textLength="19.3" lengthAdjust="spacingAndGlyphs">0.0</text>
<line x1="368" y1="688.8" x2="372.8" y2="688.8" stroke="#000" stroke-width="1.5"/>
<text x="358.8" y="664.92" font-size="14.2" text-anchor="end" fill="#1f1f1f" stroke="#1f1f1f" stroke-width="0.3" textLength="19.3" lengthAdjust="spacingAndGlyphs">0.2</text>
<line x1="368" y1="660.42" x2="372.8" y2="660.42" stroke="#000" stroke-width="1.5"/>
<text x="358.8" y="636.53" font-size="14.2" text-anchor="end" fill="#1f1f1f" stroke="#1f1f1f" stroke-width="0.3" textLength="19.3" lengthAdjust="spacingAndGlyphs">0.4</text>
<line x1="368" y1="632.03" x2="372.8" y2="632.03" stroke="#000" stroke-width="1.5"/>
<text x="358.8" y="608.15" font-size="14.2" text-anchor="end" fill="#1f1f1f" stroke="#1f1f1f" stroke-width="0.3" textLength="19.3" lengthAdjust="spacingAndGlyphs">0.6</text>
<line x1="368" y1="603.65" x2="372.8" y2="603.65" stroke="#000" stroke-width="1.5"/>
<text x="358.8" y="579.77" font-size="14.2" text-anchor="end" fill="#1f1f1f" stroke="#1f1f1f" stroke-width="0.3" textLength="19.3" lengthAdjust="spacingAndGlyphs">0.8</text>
<line x1="368" y1="575.27" x2="372.8" y2="575.27" stroke="#000" stroke-width="1.5"/>
<text x="358.8" y="551.38" font-size="14.2" text-anchor="end" fill="#1f1f1f" stroke="#1f1f1f" stroke-width="0.3" textLength="19.3" lengthAdjust="spacingAndGlyphs">1.0</text>
<line x1="368" y1="546.88" x2="372.8" y2="546.88" stroke="#000" stroke-width="1.5"/>
<text x="358.8" y="523" font-size="14.2" text-anchor="end" fill="#1f1f1f" stroke="#1f1f1f" stroke-width="0.3" textLength="19.3" lengthAdjust="spacingAndGlyphs">1.2</text>
<line x1="368" y1="518.5" x2="372.8" y2="518.5" stroke="#000" stroke-width="1.5"/>
<text x="373.4" y="712.7" font-size="15.4" text-anchor="middle" fill="#1f1f1f" stroke="#1f1f1f" stroke-width="0.2">2</text>
<text x="414.54" y="712.7" font-size="15.4" text-anchor="middle" fill="#1f1f1f" stroke="#1f1f1f" stroke-width="0.2">8</text>
<text x="455.69" y="712.7" font-size="15.4" text-anchor="middle" fill="#1f1f1f" stroke="#1f1f1f" stroke-width="0.2">14</text>
<text x="496.83" y="712.7" font-size="15.4" text-anchor="middle" fill="#1f1f1f" stroke="#1f1f1f" stroke-width="0.2">20</text>
<text x="537.97" y="712.7" font-size="15.4" text-anchor="middle" fill="#1f1f1f" stroke="#1f1f1f" stroke-width="0.2">2</text>
<text x="579.11" y="712.7" font-size="15.4" text-anchor="middle" fill="#1f1f1f" stroke="#1f1f1f" stroke-width="0.2">8</text>
<text x="620.26" y="712.7" font-size="15.4" text-anchor="middle" fill="#1f1f1f" stroke="#1f1f1f" stroke-width="0.2">14</text>
<text x="661.4" y="712.7" font-size="15.4" text-anchor="middle" fill="#1f1f1f" stroke="#1f1f1f" stroke-width="0.2">20</text>
<text x="517" y="730" font-size="12.8" text-anchor="middle" fill="#1f1f1f" stroke="#1f1f1f" stroke-width="0.2">Time (ZT)</text>
<rect x="372.8" y="518.5" width="288" height="170.3" fill="none" stroke="#000" stroke-width="2"/>
<line x1="521.5" y1="519.5" x2="521.5" y2="688.8" stroke="#8a8a8a" stroke-width="1.1" stroke-dasharray="2.6 2"/>
<line x1="377.1" y1="535.2" x2="398.5" y2="535.2" stroke="#000" stroke-width="2.1"/>
<circle cx="387.8" cy="535.2" r="2.7" fill="#000"/>
<line x1="377.1" y1="551.5" x2="398.5" y2="551.5" stroke="#a8a8a8" stroke-width="2.1"/>
<path d="M387.8 549L390.6 554.6L385 554.6Z" fill="#a8a8a8"/>
<text x="400.3" y="537.5" font-size="9.1" fill="#222" stroke="#222" stroke-width="0.35" textLength="45.7" lengthAdjust="spacingAndGlyphs">Control-SP</text>
<text x="400.3" y="555.9" font-size="9.1" fill="#222" stroke="#222" stroke-width="0.35" textLength="29.7" lengthAdjust="spacingAndGlyphs">BLT-SP</text>
<clipPath id="clipf"><rect x="371.8" y="517.5" width="290" height="172.3"/></clipPath>
<g clip-path="url(#clipf)">
<line x1="372.8" y1="688.2" x2="372.8" y2="685" stroke="#474747" stroke-width="1.8"/>
<line x1="369.8" y1="685" x2="375.8" y2="685" stroke="#474747" stroke-width="2"/>
<line x1="372.8" y1="676.7" x2="372.8" y2="673.5" stroke="#474747" stroke-width="1.8"/>
<line x1="369.8" y1="673.5" x2="375.8" y2="673.5" stroke="#474747" stroke-width="2"/>
<line x1="413.94" y1="659.1" x2="413.94" y2="652" stroke="#474747" stroke-width="1.8"/>
<line x1="410.94" y1="652" x2="416.94" y2="652" stroke="#474747" stroke-width="2"/>
<line x1="455.09" y1="654" x2="455.09" y2="636.8" stroke="#474747" stroke-width="1.8"/>
<line x1="452.09" y1="636.8" x2="458.09" y2="636.8" stroke="#474747" stroke-width="2"/>
<line x1="455.09" y1="669.6" x2="455.09" y2="666.5" stroke="#474747" stroke-width="1.8"/>
<line x1="452.09" y1="666.5" x2="458.09" y2="666.5" stroke="#474747" stroke-width="2"/>
<line x1="496.23" y1="664.4" x2="496.23" y2="643" stroke="#474747" stroke-width="1.8"/>
<line x1="493.23" y1="643" x2="499.23" y2="643" stroke="#474747" stroke-width="2"/>
<line x1="537.37" y1="688.2" x2="537.37" y2="685" stroke="#474747" stroke-width="1.8"/>
<line x1="534.37" y1="685" x2="540.37" y2="685" stroke="#474747" stroke-width="2"/>
<line x1="537.37" y1="676.7" x2="537.37" y2="673.5" stroke="#474747" stroke-width="1.8"/>
<line x1="534.37" y1="673.5" x2="540.37" y2="673.5" stroke="#474747" stroke-width="2"/>
<line x1="578.51" y1="659.1" x2="578.51" y2="652" stroke="#474747" stroke-width="1.8"/>
<line x1="575.51" y1="652" x2="581.51" y2="652" stroke="#474747" stroke-width="2"/>
<line x1="619.66" y1="654" x2="619.66" y2="636.8" stroke="#474747" stroke-width="1.8"/>
<line x1="616.66" y1="636.8" x2="622.66" y2="636.8" stroke="#474747" stroke-width="2"/>
<line x1="619.66" y1="669.6" x2="619.66" y2="666.5" stroke="#474747" stroke-width="1.8"/>
<line x1="616.66" y1="666.5" x2="622.66" y2="666.5" stroke="#474747" stroke-width="2"/>
<line x1="660.8" y1="664.4" x2="660.8" y2="643" stroke="#474747" stroke-width="1.8"/>
<line x1="657.8" y1="643" x2="663.8" y2="643" stroke="#474747" stroke-width="2"/>
</g>
<polyline points="372.8,688.2 413.94,668.3 455.09,654 496.23,681 537.37,688.2 578.51,668.3 619.66,654 660.8,681" fill="none" stroke="#000000" stroke-width="3" stroke-linejoin="round"/>
<circle cx="413.94" cy="668.3" r="3.6" fill="#000000"/>
<circle cx="455.09" cy="654" r="3.6" fill="#000000"/>
<circle cx="496.23" cy="681" r="3.6" fill="#000000"/>
<circle cx="578.51" cy="668.3" r="3.6" fill="#000000"/>
<circle cx="619.66" cy="654" r="3.6" fill="#000000"/>
<circle cx="660.8" cy="681" r="3.6" fill="#000000"/>
<polyline points="372.8,676.7 413.94,659.1 455.09,669.6 496.23,664.4 537.37,676.7 578.51,659.1 619.66,669.6 660.8,664.4" fill="none" stroke="#a5a5a5" stroke-width="3" stroke-linejoin="round"/>
<path d="M372.8 673.3L376.5 680.1L369.1 680.1Z" fill="#a5a5a5"/>
<path d="M413.94 655.7L417.64 662.5L410.24 662.5Z" fill="#a5a5a5"/>
<path d="M455.09 666.2L458.79 673L451.39 673Z" fill="#a5a5a5"/>
<path d="M496.23 661L499.93 667.8L492.53 667.8Z" fill="#a5a5a5"/>
<path d="M537.37 673.3L541.07 680.1L533.67 680.1Z" fill="#a5a5a5"/>
<path d="M578.51 655.7L582.21 662.5L574.81 662.5Z" fill="#a5a5a5"/>
<path d="M619.66 666.2L623.36 673L615.96 673Z" fill="#a5a5a5"/>
<path d="M660.8 661L664.5 667.8L657.1 667.8Z" fill="#a5a5a5"/>
</g>
<g id="pg">
<text x="8.2" y="753.9" font-size="21.5" font-weight="bold" fill="#000" textLength="96.6" lengthAdjust="spacingAndGlyphs">g - kidney</text>
<text x="21" y="943.9" font-size="14.2" text-anchor="end" fill="#1f1f1f" stroke="#1f1f1f" stroke-width="0.3" textLength="19.3" lengthAdjust="spacingAndGlyphs">0.0</text>
<text x="21" y="887.43" font-size="14.2" text-anchor="end" fill="#1f1f1f" stroke="#1f1f1f" stroke-width="0.3" textLength="19.3" lengthAdjust="spacingAndGlyphs">0.1</text>
<text x="21" y="830.97" font-size="14.2" text-anchor="end" fill="#1f1f1f" stroke="#1f1f1f" stroke-width="0.3" textLength="19.3" lengthAdjust="spacingAndGlyphs">0.2</text>
<text x="21" y="774.5" font-size="14.2" text-anchor="end" fill="#1f1f1f" stroke="#1f1f1f" stroke-width="0.3" textLength="19.3" lengthAdjust="spacingAndGlyphs">0.3</text>
<text x="34.6" y="963" font-size="15.4" text-anchor="middle" fill="#1f1f1f" stroke="#1f1f1f" stroke-width="0.2">2</text>
<text x="76" y="963" font-size="15.4" text-anchor="middle" fill="#1f1f1f" stroke="#1f1f1f" stroke-width="0.2">8</text>
<text x="117.4" y="963" font-size="15.4" text-anchor="middle" fill="#1f1f1f" stroke="#1f1f1f" stroke-width="0.2">14</text>
<text x="158.8" y="963" font-size="15.4" text-anchor="middle" fill="#1f1f1f" stroke="#1f1f1f" stroke-width="0.2">20</text>
<text x="200.2" y="963" font-size="15.4" text-anchor="middle" fill="#1f1f1f" stroke="#1f1f1f" stroke-width="0.2">2</text>
<text x="241.6" y="963" font-size="15.4" text-anchor="middle" fill="#1f1f1f" stroke="#1f1f1f" stroke-width="0.2">8</text>
<text x="283" y="963" font-size="15.4" text-anchor="middle" fill="#1f1f1f" stroke="#1f1f1f" stroke-width="0.2">14</text>
<text x="324.4" y="963" font-size="15.4" text-anchor="middle" fill="#1f1f1f" stroke="#1f1f1f" stroke-width="0.2">20</text>
<text x="179" y="984.3" font-size="12.8" text-anchor="middle" fill="#1f1f1f" stroke="#1f1f1f" stroke-width="0.2">Time (ZT)</text>
<rect x="34" y="770" width="289.8" height="169.4" fill="none" stroke="#000" stroke-width="2"/>
<line x1="182.4" y1="771" x2="182.4" y2="939.4" stroke="#8a8a8a" stroke-width="1.1" stroke-dasharray="2.6 2"/>
<line x1="247.1" y1="782.5" x2="267.3" y2="782.5" stroke="#000" stroke-width="2.1"/>
<circle cx="257.2" cy="782.5" r="2.7" fill="#000"/>
<line x1="247.1" y1="798.5" x2="267.3" y2="798.5" stroke="#a8a8a8" stroke-width="2.1"/>
<path d="M257.2 796L260 801.6L254.4 801.6Z" fill="#a8a8a8"/>
<text x="269.7" y="784.9" font-size="9.1" fill="#222" stroke="#222" stroke-width="0.35" textLength="46.5" lengthAdjust="spacingAndGlyphs">Control-NP</text>
<text x="269.7" y="803.3" font-size="9.1" fill="#222" stroke="#222" stroke-width="0.35" textLength="31.1" lengthAdjust="spacingAndGlyphs">BLT-NP</text>
<clipPath id="clipg"><rect x="33" y="769" width="291.8" height="171.4"/></clipPath>
<g clip-path="url(#clipg)">
<line x1="34" y1="829.8" x2="34" y2="800" stroke="#474747" stroke-width="1.8"/>
<line x1="31" y1="800" x2="37" y2="800" stroke="#474747" stroke-width="2"/>
<line x1="34" y1="849" x2="34" y2="812" stroke="#474747" stroke-width="1.8"/>
<line x1="31" y1="812" x2="37" y2="812" stroke="#474747" stroke-width="2"/>
<line x1="75.4" y1="873.8" x2="75.4" y2="850.4" stroke="#474747" stroke-width="1.8"/>
<line x1="72.4" y1="850.4" x2="78.4" y2="850.4" stroke="#474747" stroke-width="2"/>
<line x1="75.4" y1="838.2" x2="75.4" y2="800" stroke="#474747" stroke-width="1.8"/>
<line x1="72.4" y1="800" x2="78.4" y2="800" stroke="#474747" stroke-width="2"/>
<line x1="116.8" y1="910.8" x2="116.8" y2="903.2" stroke="#474747" stroke-width="1.8"/>
<line x1="113.8" y1="903.2" x2="119.8" y2="903.2" stroke="#474747" stroke-width="2"/>
<line x1="158.2" y1="871.5" x2="158.2" y2="859.6" stroke="#474747" stroke-width="1.8"/>
<line x1="155.2" y1="859.6" x2="161.2" y2="859.6" stroke="#474747" stroke-width="2"/>
<line x1="199.6" y1="829.8" x2="199.6" y2="800" stroke="#474747" stroke-width="1.8"/>
<line x1="196.6" y1="800" x2="202.6" y2="800" stroke="#474747" stroke-width="2"/>
<line x1="199.6" y1="849" x2="199.6" y2="812" stroke="#474747" stroke-width="1.8"/>
<line x1="196.6" y1="812" x2="202.6" y2="812" stroke="#474747" stroke-width="2"/>
<line x1="241" y1="873.8" x2="241" y2="850.4" stroke="#474747" stroke-width="1.8"/>
<line x1="238" y1="850.4" x2="244" y2="850.4" stroke="#474747" stroke-width="2"/>
<line x1="241" y1="838.2" x2="241" y2="800" stroke="#474747" stroke-width="1.8"/>
<line x1="238" y1="800" x2="244" y2="800" stroke="#474747" stroke-width="2"/>
<line x1="282.4" y1="910.8" x2="282.4" y2="903.2" stroke="#474747" stroke-width="1.8"/>
<line x1="279.4" y1="903.2" x2="285.4" y2="903.2" stroke="#474747" stroke-width="2"/>
<line x1="323.8" y1="871.5" x2="323.8" y2="859.6" stroke="#474747" stroke-width="1.8"/>
<line x1="320.8" y1="859.6" x2="326.8" y2="859.6" stroke="#474747" stroke-width="2"/>
</g>
<polyline points="34,829.8 75.4,873.8 116.8,910.8 158.2,871.5 199.6,829.8 241,873.8 282.4,910.8 323.8,871.5" fill="none" stroke="#000000" stroke-width="3" stroke-linejoin="round"/>
<circle cx="34" cy="829.8" r="3.6" fill="#000000"/>
<circle cx="75.4" cy="873.8" r="3.6" fill="#000000"/>
<circle cx="116.8" cy="910.8" r="3.6" fill="#000000"/>
<circle cx="158.2" cy="871.5" r="3.6" fill="#000000"/>
<circle cx="199.6" cy="829.8" r="3.6" fill="#000000"/>
<circle cx="241" cy="873.8" r="3.6" fill="#000000"/>
<circle cx="282.4" cy="910.8" r="3.6" fill="#000000"/>
<circle cx="323.8" cy="871.5" r="3.6" fill="#000000"/>
<polyline points="34,849 75.4,838.2 116.8,911.3 158.2,939.3 199.6,849 241,838.2 282.4,911.3 323.8,939.3" fill="none" stroke="#a5a5a5" stroke-width="3" stroke-linejoin="round"/>
<path d="M34 845.6L37.7 852.4L30.3 852.4Z" fill="#a5a5a5"/>
<path d="M75.4 834.8L79.1 841.6L71.7 841.6Z" fill="#a5a5a5"/>
<path d="M116.8 907.9L120.5 914.7L113.1 914.7Z" fill="#a5a5a5"/>
<path d="M158.2 935.9L161.9 942.7L154.5 942.7Z" fill="#a5a5a5"/>
<path d="M199.6 845.6L203.3 852.4L195.9 852.4Z" fill="#a5a5a5"/>
<path d="M241 834.8L244.7 841.6L237.3 841.6Z" fill="#a5a5a5"/>
<path d="M282.4 907.9L286.1 914.7L278.7 914.7Z" fill="#a5a5a5"/>
<path d="M323.8 935.9L327.5 942.7L320.1 942.7Z" fill="#a5a5a5"/>
</g>
<g id="ph">
<text x="349.6" y="754.8" font-size="21.5" font-weight="bold" fill="#000" textLength="93.2" lengthAdjust="spacingAndGlyphs">h- kidney</text>
<text x="358.7" y="944.1" font-size="14.2" text-anchor="end" fill="#1f1f1f" stroke="#1f1f1f" stroke-width="0.3" textLength="19.3" lengthAdjust="spacingAndGlyphs">0.0</text>
<text x="358.7" y="888.47" font-size="14.2" text-anchor="end" fill="#1f1f1f" stroke="#1f1f1f" stroke-width="0.3" textLength="19.3" lengthAdjust="spacingAndGlyphs">0.1</text>
<text x="358.7" y="832.83" font-size="14.2" text-anchor="end" fill="#1f1f1f" stroke="#1f1f1f" stroke-width="0.3" textLength="19.3" lengthAdjust="spacingAndGlyphs">0.2</text>
<text x="358.7" y="777.2" font-size="14.2" text-anchor="end" fill="#1f1f1f" stroke="#1f1f1f" stroke-width="0.3" textLength="19.3" lengthAdjust="spacingAndGlyphs">0.3</text>
<text x="373.6" y="963" font-size="15.4" text-anchor="middle" fill="#1f1f1f" stroke="#1f1f1f" stroke-width="0.2">2</text>
<text x="414.49" y="963" font-size="15.4" text-anchor="middle" fill="#1f1f1f" stroke="#1f1f1f" stroke-width="0.2">8</text>
<text x="455.37" y="963" font-size="15.4" text-anchor="middle" fill="#1f1f1f" stroke="#1f1f1f" stroke-width="0.2">14</text>
<text x="496.26" y="963" font-size="15.4" text-anchor="middle" fill="#1f1f1f" stroke="#1f1f1f" stroke-width="0.2">20</text>
<text x="537.14" y="963" font-size="15.4" text-anchor="middle" fill="#1f1f1f" stroke="#1f1f1f" stroke-width="0.2">2</text>
<text x="578.03" y="963" font-size="15.4" text-anchor="middle" fill="#1f1f1f" stroke="#1f1f1f" stroke-width="0.2">8</text>
<text x="618.91" y="963" font-size="15.4" text-anchor="middle" fill="#1f1f1f" stroke="#1f1f1f" stroke-width="0.2">14</text>
<text x="659.8" y="963" font-size="15.4" text-anchor="middle" fill="#1f1f1f" stroke="#1f1f1f" stroke-width="0.2">20</text>
<text x="515.7" y="983.7" font-size="12.8" text-anchor="middle" fill="#1f1f1f" stroke="#1f1f1f" stroke-width="0.2">Time (ZT)</text>
<rect x="373" y="772.7" width="286.2" height="166.9" fill="none" stroke="#000" stroke-width="2"/>
<line x1="520.5" y1="773.7" x2="520.5" y2="939.6" stroke="#8a8a8a" stroke-width="1.1" stroke-dasharray="2.6 2"/>
<line x1="379.5" y1="788.9" x2="400.5" y2="788.9" stroke="#000" stroke-width="2.1"/>
<circle cx="390" cy="788.9" r="2.7" fill="#000"/>
<line x1="379.5" y1="805.1" x2="400.5" y2="805.1" stroke="#a8a8a8" stroke-width="2.1"/>
<path d="M390 802.6L392.8 808.2L387.2 808.2Z" fill="#a8a8a8"/>
<text x="402.6" y="791.3" font-size="9.1" fill="#222" stroke="#222" stroke-width="0.35" textLength="45.4" lengthAdjust="spacingAndGlyphs">Control-SP</text>
<text x="402.6" y="809.6" font-size="9.1" fill="#222" stroke="#222" stroke-width="0.35" textLength="29.4" lengthAdjust="spacingAndGlyphs">BLT-SP</text>
<clipPath id="cliph"><rect x="372" y="771.7" width="288.2" height="168.9"/></clipPath>
<g clip-path="url(#cliph)">
<line x1="373" y1="898.2" x2="373" y2="871.1" stroke="#474747" stroke-width="1.8"/>
<line x1="370" y1="871.1" x2="376" y2="871.1" stroke="#474747" stroke-width="2"/>
<line x1="373" y1="888.5" x2="373" y2="852.7" stroke="#474747" stroke-width="1.8"/>
<line x1="370" y1="852.7" x2="376" y2="852.7" stroke="#474747" stroke-width="2"/>
<line x1="413.89" y1="932.2" x2="413.89" y2="923.4" stroke="#474747" stroke-width="1.8"/>
<line x1="410.89" y1="923.4" x2="416.89" y2="923.4" stroke="#474747" stroke-width="2"/>
<line x1="413.89" y1="895.4" x2="413.89" y2="885.6" stroke="#474747" stroke-width="1.8"/>
<line x1="410.89" y1="885.6" x2="416.89" y2="885.6" stroke="#474747" stroke-width="2"/>
<line x1="454.77" y1="928" x2="454.77" y2="916.5" stroke="#474747" stroke-width="1.8"/>
<line x1="451.77" y1="916.5" x2="457.77" y2="916.5" stroke="#474747" stroke-width="2"/>
<line x1="495.66" y1="894.3" x2="495.66" y2="877.1" stroke="#474747" stroke-width="1.8"/>
<line x1="492.66" y1="877.1" x2="498.66" y2="877.1" stroke="#474747" stroke-width="2"/>
<line x1="495.66" y1="920" x2="495.66" y2="908.5" stroke="#474747" stroke-width="1.8"/>
<line x1="492.66" y1="908.5" x2="498.66" y2="908.5" stroke="#474747" stroke-width="2"/>
<line x1="536.54" y1="898.2" x2="536.54" y2="871.1" stroke="#474747" stroke-width="1.8"/>
<line x1="533.54" y1="871.1" x2="539.54" y2="871.1" stroke="#474747" stroke-width="2"/>
<line x1="536.54" y1="888.5" x2="536.54" y2="852.7" stroke="#474747" stroke-width="1.8"/>
<line x1="533.54" y1="852.7" x2="539.54" y2="852.7" stroke="#474747" stroke-width="2"/>
<line x1="577.43" y1="932.2" x2="577.43" y2="923.4" stroke="#474747" stroke-width="1.8"/>
<line x1="574.43" y1="923.4" x2="580.43" y2="923.4" stroke="#474747" stroke-width="2"/>
<line x1="577.43" y1="895.4" x2="577.43" y2="885.6" stroke="#474747" stroke-width="1.8"/>
<line x1="574.43" y1="885.6" x2="580.43" y2="885.6" stroke="#474747" stroke-width="2"/>
<line x1="618.31" y1="928" x2="618.31" y2="916.5" stroke="#474747" stroke-width="1.8"/>
<line x1="615.31" y1="916.5" x2="621.31" y2="916.5" stroke="#474747" stroke-width="2"/>
<line x1="659.2" y1="894.3" x2="659.2" y2="877.1" stroke="#474747" stroke-width="1.8"/>
<line x1="656.2" y1="877.1" x2="662.2" y2="877.1" stroke="#474747" stroke-width="2"/>
<line x1="659.2" y1="920" x2="659.2" y2="908.5" stroke="#474747" stroke-width="1.8"/>
<line x1="656.2" y1="908.5" x2="662.2" y2="908.5" stroke="#474747" stroke-width="2"/>
</g>
<polyline points="373,898.2 413.89,932.2 454.77,939 495.66,894.3 536.54,898.2 577.43,932.2 618.31,939 659.2,894.3" fill="none" stroke="#000000" stroke-width="3" stroke-linejoin="round"/>
<circle cx="373" cy="898.2" r="3.6" fill="#000000"/>
<circle cx="413.89" cy="932.2" r="3.6" fill="#000000"/>
<circle cx="454.77" cy="939" r="3.6" fill="#000000"/>
<circle cx="495.66" cy="894.3" r="3.6" fill="#000000"/>
<circle cx="536.54" cy="898.2" r="3.6" fill="#000000"/>
<circle cx="577.43" cy="932.2" r="3.6" fill="#000000"/>
<circle cx="618.31" cy="939" r="3.6" fill="#000000"/>
<circle cx="659.2" cy="894.3" r="3.6" fill="#000000"/>
<polyline points="373,888.5 413.89,895.4 454.77,928 495.66,920 536.54,888.5 577.43,895.4 618.31,928 659.2,920" fill="none" stroke="#a5a5a5" stroke-width="3" stroke-linejoin="round"/>
<path d="M373 885.1L376.7 891.9L369.3 891.9Z" fill="#a5a5a5"/>
<path d="M413.89 892L417.59 898.8L410.19 898.8Z" fill="#a5a5a5"/>
<path d="M454.77 924.6L458.47 931.4L451.07 931.4Z" fill="#a5a5a5"/>
<path d="M495.66 916.6L499.36 923.4L491.96 923.4Z" fill="#a5a5a5"/>
<path d="M536.54 885.1L540.24 891.9L532.84 891.9Z" fill="#a5a5a5"/>
<path d="M577.43 892L581.13 898.8L573.73 898.8Z" fill="#a5a5a5"/>
<path d="M618.31 924.6L622.01 931.4L614.61 931.4Z" fill="#a5a5a5"/>
<path d="M659.2 916.6L662.9 923.4L655.5 923.4Z" fill="#a5a5a5"/>
</g>
</svg>
</body></html>
